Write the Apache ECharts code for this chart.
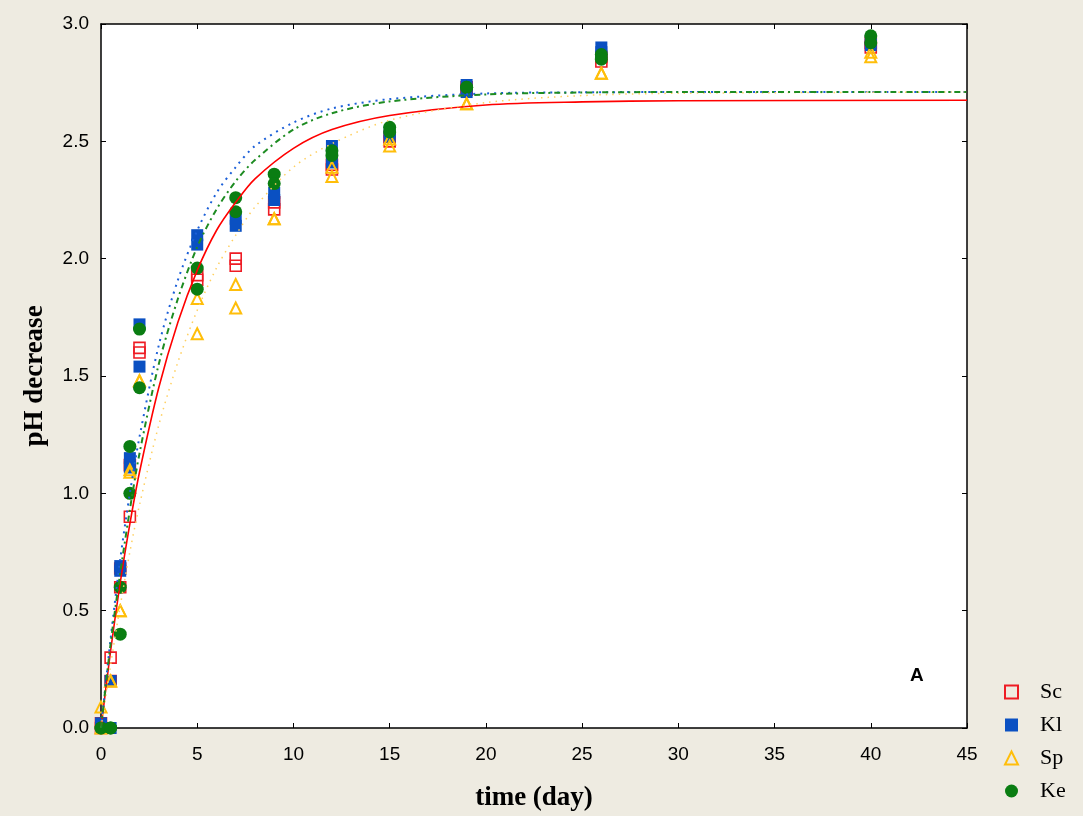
<!DOCTYPE html>
<html>
<head>
<meta charset="utf-8">
<script src="https://cdn.jsdelivr.net/npm/echarts@6/dist/echarts.min.js"></script>
<style>
html,body{margin:0;padding:0;background:#EEEBE1;}
#chart{width:1083px;height:816px;}
</style>
</head>
<body>
<div id="chart"></div>
<script>
// Sampling times (day)
var times = [0, 0.5, 1, 1.5, 2, 5, 7, 9, 12, 15, 19, 26, 40];
// Replicate measurements (pH decrease)
var scA = [0.02, 0.30, 0.60, 0.90, 1.62, 1.93, 2.00, 2.24, 2.40, 2.52, 2.73, 2.86, 2.92];
var scB = [0.00, 0.20, 0.68, 1.12, 1.60, 1.91, 1.97, 2.21, 2.38, 2.50, 2.72, 2.84, 2.90];
var klA = [0.02, 0.20, 0.69, 1.15, 1.72, 2.10, 2.17, 2.28, 2.48, 2.54, 2.74, 2.90, 2.93];
var klB = [0.00, 0.00, 0.67, 1.11, 1.54, 2.06, 2.14, 2.25, 2.41, 2.52, 2.71, 2.88, 2.91];
var spA = [0.09, 0.20, 0.50, 1.10, 1.48, 1.83, 1.89, 2.17, 2.39, 2.51, 2.66, 2.79, 2.88];
var spB = [0.00, 0.20, 0.50, 1.09, 1.48, 1.68, 1.79, 2.17, 2.35, 2.48, 2.66, 2.79, 2.86];
var keA = [0.00, 0.00, 0.60, 1.20, 1.70, 1.96, 2.26, 2.36, 2.46, 2.56, 2.73, 2.87, 2.95];
var keB = [0.00, 0.00, 0.40, 1.00, 1.45, 1.87, 2.20, 2.32, 2.44, 2.54, 2.73, 2.85, 2.92];

// Fitted curves
var fitT  = [0, 0.5, 1, 1.5, 2, 3, 4, 5, 6, 7, 8, 10, 12, 15, 20, 25, 30, 45];
var scFit = [0, 0.33, 0.62, 0.87, 1.09, 1.45, 1.73, 1.95, 2.12, 2.24, 2.34, 2.47, 2.55, 2.61, 2.655, 2.668, 2.673, 2.675];
var klFit = [0, 0.38, 0.72, 1.00, 1.24, 1.63, 1.91, 2.12, 2.28, 2.39, 2.48, 2.58, 2.64, 2.68, 2.704, 2.709, 2.71, 2.71];
var spFit = [0, 0.27, 0.52, 0.75, 0.95, 1.29, 1.56, 1.78, 1.96, 2.10, 2.22, 2.39, 2.49, 2.59, 2.665, 2.695, 2.705, 2.71];
var keFit = [0, 0.36, 0.66, 0.93, 1.17, 1.55, 1.83, 2.05, 2.21, 2.33, 2.42, 2.55, 2.62, 2.67, 2.70, 2.708, 2.71, 2.71];

var xTicks = {min: 0, max: 45, interval: 5};
var yTicks = {min: 0, max: 3, interval: 0.5};
var seriesNames = ['Sc', 'Kl', 'Sp', 'Ke'];

function pairs(t, a, b) {
  var out = [];
  for (var i = 0; i < t.length; i++) {
    out.push([t[i], a[i]]);
    if (b) out.push([t[i], b[i]]);
  }
  return out;
}

var chart = echarts.init(document.getElementById('chart'));
var tickStyle = {show: true, inside: true, length: 5, lineStyle: {color: '#000', width: 1}};
var axisLineStyle = {show: true, onZero: false, lineStyle: {color: '#000', width: 1.5}};

function fitLine(name, data, color, width, type) {
  return {name: name, type: 'line', smooth: 0.3, showSymbol: false, silent: true, z: 4,
    lineStyle: {color: color, width: width, type: type}, data: data};
}

var option = {
  backgroundColor: '#EEEBE1',
  animation: false,
  grid: {left: 101, top: 24, width: 866, height: 704, show: true, backgroundColor: '#FFFFFF', borderWidth: 0,
         containLabel: false, outerBoundsMode: 'none'},
  legend: {
    orient: 'vertical', left: 999, top: 676,
    data: seriesNames,
    itemWidth: 13, itemHeight: 13, itemGap: 11,
    textStyle: {fontFamily: 'Liberation Serif', fontSize: 22, color: '#000', lineHeight: 21, padding: [0, 0, 0, 17]}
  },
  xAxis: [{
    type: 'value', position: 'bottom', min: xTicks.min, max: xTicks.max, interval: xTicks.interval,
    axisLine: axisLineStyle, axisTick: tickStyle, splitLine: {show: false},
    axisLabel: {color: '#000', fontFamily: 'Liberation Sans', fontSize: 19, margin: 17},
    name: 'time (day)', nameLocation: 'middle', nameGap: 57,
    nameTextStyle: {fontFamily: 'Liberation Serif', fontWeight: 'bold', fontSize: 27, color: '#000'}
  }, {
    type: 'value', position: 'top', min: xTicks.min, max: xTicks.max, interval: xTicks.interval,
    axisLine: axisLineStyle, axisTick: tickStyle, axisLabel: {show: false}, splitLine: {show: false}
  }],
  yAxis: [{
    type: 'value', position: 'left', min: yTicks.min, max: yTicks.max, interval: yTicks.interval,
    axisLine: axisLineStyle, axisTick: tickStyle, splitLine: {show: false},
    axisLabel: {color: '#000', fontFamily: 'Liberation Sans', fontSize: 19, margin: 12,
      formatter: function (v) { return v.toFixed(1); }},
    name: 'pH decrease', nameLocation: 'middle', nameGap: 52, nameRotate: 90,
    nameTextStyle: {fontFamily: 'Liberation Serif', fontWeight: 'bold', fontSize: 27, color: '#000'}
  }, {
    type: 'value', position: 'right', min: yTicks.min, max: yTicks.max, interval: yTicks.interval,
    axisLine: axisLineStyle, axisTick: tickStyle, axisLabel: {show: false}, splitLine: {show: false}
  }],
  graphic: [{
    type: 'text', left: 910, top: 666,
    style: {text: 'A', fontFamily: 'Liberation Sans', fontWeight: 'bold', fontSize: 19, fill: '#000'}
  }],
  series: [
    {name: 'Sc', type: 'scatter', symbol: 'rect', symbolSize: 11, z: 3,
     itemStyle: {color: 'rgba(255,255,255,0)', borderColor: '#EE1C24', borderWidth: 1.6, opacity: 1},
     data: pairs(times, scA, scB)},
    {name: 'Kl', type: 'scatter', symbol: 'rect', symbolSize: 12, z: 3,
     itemStyle: {color: '#0A50C2', opacity: 1},
     data: pairs(times, klA, klB)},
    {name: 'Sp', type: 'scatter', symbol: 'triangle', symbolSize: 11, z: 3,
     itemStyle: {color: 'rgba(255,255,255,0)', borderColor: '#FFBE0A', borderWidth: 2, opacity: 1},
     data: pairs(times, spA, spB)},
    {name: 'Ke', type: 'scatter', symbol: 'circle', symbolSize: 13, z: 3,
     itemStyle: {color: '#0A7D12', opacity: 1},
     data: pairs(times, keA, keB)},
    fitLine('Sc fit', pairs(fitT, scFit), '#FF0000', 1.6, 'solid'),
    fitLine('Kl fit', pairs(fitT, klFit), '#1B5FD8', 2, [2, 5]),
    fitLine('Sp fit', pairs(fitT, spFit), '#FFD060', 1.5, [1.5, 5]),
    fitLine('Ke fit', pairs(fitT, keFit), '#1E8C22', 2, [6, 4, 2, 4])
  ]
};
chart.setOption(option);
</script>
</body>
</html>
